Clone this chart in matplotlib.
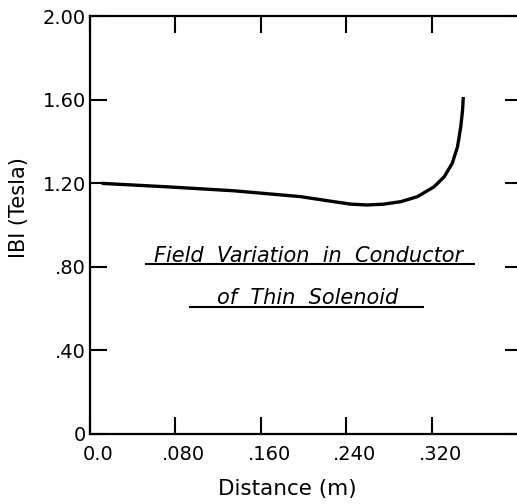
import numpy as np
from matplotlib import pyplot as plt
from matplotlib import transforms

# field along the conductor
distance = [0.0125, 0.072, 0.1345, 0.197, 0.228, 0.244, 0.2596, 0.275, 0.291,
            0.3065, 0.322, 0.3315, 0.339, 0.344, 0.347, 0.3487, 0.3493]
field = [1.199, 1.183, 1.164, 1.136, 1.112, 1.100, 1.096, 1.100, 1.112,
         1.136, 1.183, 1.231, 1.295, 1.375, 1.470, 1.550, 1.605]

x_ticks = [0.0, 0.08, 0.16, 0.24, 0.32]
x_labels = ["0.0", ".080", ".160", ".240", ".320"]
y_ticks = [0.0, 0.4, 0.8, 1.2, 1.6, 2.0]
y_labels = ["0", ".40", ".80", "1.20", "1.60", "2.00"]

plt.rcParams['font.family'] = ['DejaVu Sans']

fig = plt.figure(figsize=(5.17, 5.04), dpi=100)
ax = fig.add_axes([0.174, 0.139, 0.835, 0.829])

ax.plot(distance, field, color="black", lw=2.4, solid_joinstyle="round")

ax.set_xlim(0, 0.404)
ax.set_ylim(0, 2.0)
ax.set_xticks(x_ticks, x_labels)
ax.set_yticks(y_ticks, y_labels)
ax.tick_params(direction="in", length=12, width=1.5, labelsize=14,
               top=True, right=True)
ax.tick_params(axis="y", pad=3)
ax.tick_params(axis="x", pad=8)
for s in ax.spines.values():
    s.set_linewidth(1.6)

# the scanned labels sit a little right of their ticks
shift = transforms.ScaledTranslation(6 / 72, 0, fig.dpi_scale_trans)
for lbl in ax.get_xticklabels():
    lbl.set_transform(lbl.get_transform() + shift)

ax.set_xlabel("Distance (m)", fontsize=15.5)
ax.xaxis.set_label_coords(0.457, -0.108)
ax.set_ylabel("IBI (Tesla)", fontsize=15)
ax.yaxis.set_label_coords(-0.142, 0.543)

# underlined caption inside the plot
ax.text(0.2045, 0.823, "Field  Variation  in  Conductor", style="italic",
        fontsize=15, ha="center", va="baseline")
ax.plot([0.052, 0.359], [0.814, 0.814], color="black", lw=1.5)
ax.text(0.204, 0.622, "of  Thin  Solenoid", style="italic",
        fontsize=15, ha="center", va="baseline")
ax.plot([0.094, 0.312], [0.608, 0.608], color="black", lw=1.5)

fig.savefig("out.png", dpi=100)
